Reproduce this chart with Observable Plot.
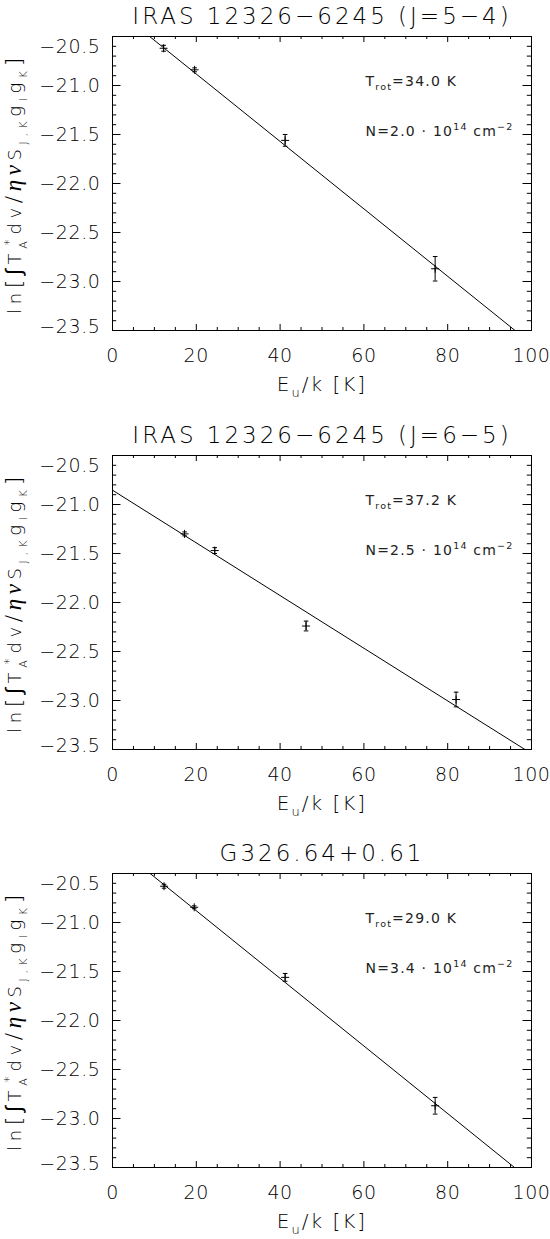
<!DOCTYPE html>
<html><head><meta charset="utf-8">
<script src="https://cdn.jsdelivr.net/npm/d3@7"></script>
<script src="https://cdn.jsdelivr.net/npm/@observablehq/plot@0.6"></script>
<style>
body{margin:0;background:#fff;}
#chart{width:550px;}
#chart svg{display:block;}
svg text{font-family:"DejaVu Sans",sans-serif;font-weight:200;}
g[aria-label="x-axis tick label"] text, g[aria-label="y-axis tick label"] text{letter-spacing:0.6px;}
g.ttl text{letter-spacing:3px;}
g.xlab text{letter-spacing:2px;}
g.ylab text{letter-spacing:4.6px;}
g.ann text{letter-spacing:1.2px;font-weight:400;}
tspan.greek{font-family:"Liberation Serif",serif;font-style:italic;font-weight:400;}
</style></head><body><div id="chart"></div>
<script>
// ---- data ----
const titles = ["IRAS 12326\u22126245 (J=5\u22124)", "IRAS 12326\u22126245 (J=6\u22125)", "G326.64+0.61"];
const trot = ["34.0", "37.2", "29.0"];
const ncol = ["2.0", "2.5", "3.4"];
const eu1 = [12.2, 19.6, 41.2, 77.0];
const lnN1 = [-20.62, -20.84, -21.56, -22.87];
const err1 = [0.03, 0.02, 0.06, 0.125];
const eu2 = [17.2, 24.4, 46.2, 82.0];
const lnN2 = [-21.30, -21.47, -22.24, -22.99];
const err2 = [0.02, 0.03, 0.05, 0.075];
const eu3 = [12.3, 19.5, 41.2, 77.0];
const lnN3 = [-20.63, -20.845, -21.56, -22.87];
const err3 = [0.02, 0.015, 0.04, 0.085];
const fitIntercept = [-20.195, -20.854, -20.19];
const fitSlope = [-0.0344, -0.02688, -0.0345];
const xTicks = [0, 20, 40, 60, 80, 100];
const yTicks = [-20.5, -21.0, -21.5, -22.0, -22.5, -23.0, -23.5];

const W = 550, H = 413, ML = 112, MR = 19;
const layout = [{mt: 36, mb: 83}, {mt: 42, mb: 77}, {mt: 47, mb: 72}];
const series = [[eu1, lnN1, err1], [eu2, lnN2, err2], [eu3, lnN3, err3]];

const plus = {draw(ctx, size) {const r = Math.sqrt(size / Math.PI); ctx.moveTo(-r, 0); ctx.lineTo(r, 0); ctx.moveTo(0, -r); ctx.lineTo(0, r);}};
const hbar = {draw(ctx, size) {const r = Math.sqrt(size / Math.PI); ctx.moveTo(-r, 0); ctx.lineTo(r, 0);}};

const xMajor = xTicks.slice(1, -1);
const xMinor = d3.range(5, 100, 5).filter(v => v % 20 !== 0);
const yMajor = yTicks.slice(1, -1);
const yMinor = d3.range(1, 30).filter(i => i % 5 !== 0).map(i => -20.5 - i * 0.1);
const fmt = d3.format(".1f");

function rich(svg, cls, parts) {
  const t = d3.select(svg).select(`g.${cls} text`);
  t.text(null);
  let cur = 0;
  for (const p of parts) {
    const [s, shift = 0, size = null, extra = {}] = p;
    const ts = t.append("tspan").text(s);
    if (shift !== cur) ts.attr("dy", shift - cur);
    cur = shift;
    if (size) ts.attr("font-size", size);
    for (const k in extra) ts.attr(k, extra[k]);
  }
}

const root = document.getElementById("chart");
series.forEach(([eu, ln, err], i) => {
  const {mt, mb} = layout[i];
  const fh = H - mt - mb;
  const fw = W - ML - MR;
  const pts = eu.map((x, j) => ({x, y: ln[j], lo: ln[j] - err[j], hi: ln[j] + err[j]}));
  const fit = [0, 100].map(x => ({x, y: fitIntercept[i] + fitSlope[i] * x}));
  const tk = {stroke: "#000", strokeWidth: 1};
  const svg = Plot.plot({
    width: W, height: H, marginTop: mt, marginBottom: mb, marginLeft: ML, marginRight: MR,
    style: {fontFamily: "DejaVu Sans", fontSize: "19px", background: "#fff", color: "#000", overflow: "visible"},
    x: {domain: [0, 100], label: null},
    y: {domain: [-23.5, -20.5], label: null},
    marks: [
      Plot.line(fit, {x: "x", y: "y", stroke: "#000", strokeWidth: 1, clip: true}),
      Plot.ruleX(pts, {x: "x", y1: "lo", y2: "hi", stroke: "#000", strokeWidth: 1}),
      Plot.dot(pts, {x: "x", y: "lo", symbol: hbar, r: 2.3, stroke: "#000", fill: "none", strokeWidth: 1}),
      Plot.dot(pts, {x: "x", y: "hi", symbol: hbar, r: 2.3, stroke: "#000", fill: "none", strokeWidth: 1}),
      Plot.dot(pts, {x: "x", y: "y", symbol: plus, r: 4, stroke: "#000", fill: "none", strokeWidth: 1}),
      Plot.tickX(xMajor, {x: d => d, insetTop: fh - 6, ...tk}),
      Plot.tickX(xMajor, {x: d => d, insetBottom: fh - 6, ...tk}),
      Plot.tickX(xMinor, {x: d => d, insetTop: fh - 3, ...tk}),
      Plot.tickX(xMinor, {x: d => d, insetBottom: fh - 3, ...tk}),
      Plot.tickY(yMajor, {y: d => d, insetRight: fw - 8.5, ...tk}),
      Plot.tickY(yMajor, {y: d => d, insetLeft: fw - 8.5, ...tk}),
      Plot.tickY(yMinor, {y: d => d, insetRight: fw - 4.2, ...tk}),
      Plot.tickY(yMinor, {y: d => d, insetLeft: fw - 4.2, ...tk}),
      Plot.frame({stroke: "#000", strokeWidth: 1}),
      Plot.axisX({ticks: xTicks, tickSize: 0, tickPadding: 18, tickFormat: d => String(d), label: null}),
      Plot.axisY({ticks: yMajor, tickSize: 0, tickPadding: 12, tickFormat: fmt, label: null}),
      Plot.axisY({ticks: [yTicks[0]], tickSize: 0, tickPadding: 12, tickFormat: fmt, label: null, dy: 10}),
      Plot.axisY({ticks: [yTicks[6]], tickSize: 0, tickPadding: 12, tickFormat: fmt, label: null, dy: -4}),
      Plot.text([titles[i]], {frameAnchor: "top", dy: -12.5, lineAnchor: "bottom", fontSize: 23, className: "ttl", fill: "#000"}),
      Plot.text(["T"], {frameAnchor: "top-left", dx: 253, dy: 49.5, lineAnchor: "bottom", textAnchor: "start", fontSize: 14, className: "ann trot", fill: "#222"}),
      Plot.text(["N"], {frameAnchor: "top-left", dx: 253, dy: 99, lineAnchor: "bottom", textAnchor: "start", fontSize: 14, className: "ann ncol", fill: "#222"}),
      Plot.text(["E"], {frameAnchor: "bottom", dy: 60, lineAnchor: "bottom", fontSize: 20, className: "xlab", fill: "#000"}),
      Plot.text(["l"], {frameAnchor: "left", dx: -92, rotate: -90, lineAnchor: "bottom", textAnchor: "middle", fontSize: 18, className: "ylab", fill: "#000"})
    ]
  });
  rich(svg, "trot", [["T"], ["rot", 4, 9.5], ["=" + trot[i] + " K", 0]]);
  rich(svg, "ncol", [["N=" + ncol[i] + " \u00b7 10"], ["14", -6, 9.5], [" cm", 0], ["\u22122", -6, 9.5]]);
  rich(svg, "xlab", [["E"], ["u", 6, 13], ["/k [K]", 0]]);
  rich(svg, "ylab", [
    ["ln"], ["[", 0, 22], ["\u222b", 0, 22], ["T", 0, 18],
    ["A", 6, 11], ["*", -8, 13, {dx: -9}], ["dv", 0, 18],
    ["/", 0, 22], ["\u03b7\u03bd", 0, 23, {"class": "greek"}], ["S", 0, 18],
    ["J,K", 6, 11], ["g", 0, 18], ["l", 6, 11], ["g", 0, 18], ["K", 6, 11], ["]", 0, 22]
  ]);
  root.appendChild(svg);
});
</script>
</body></html>
